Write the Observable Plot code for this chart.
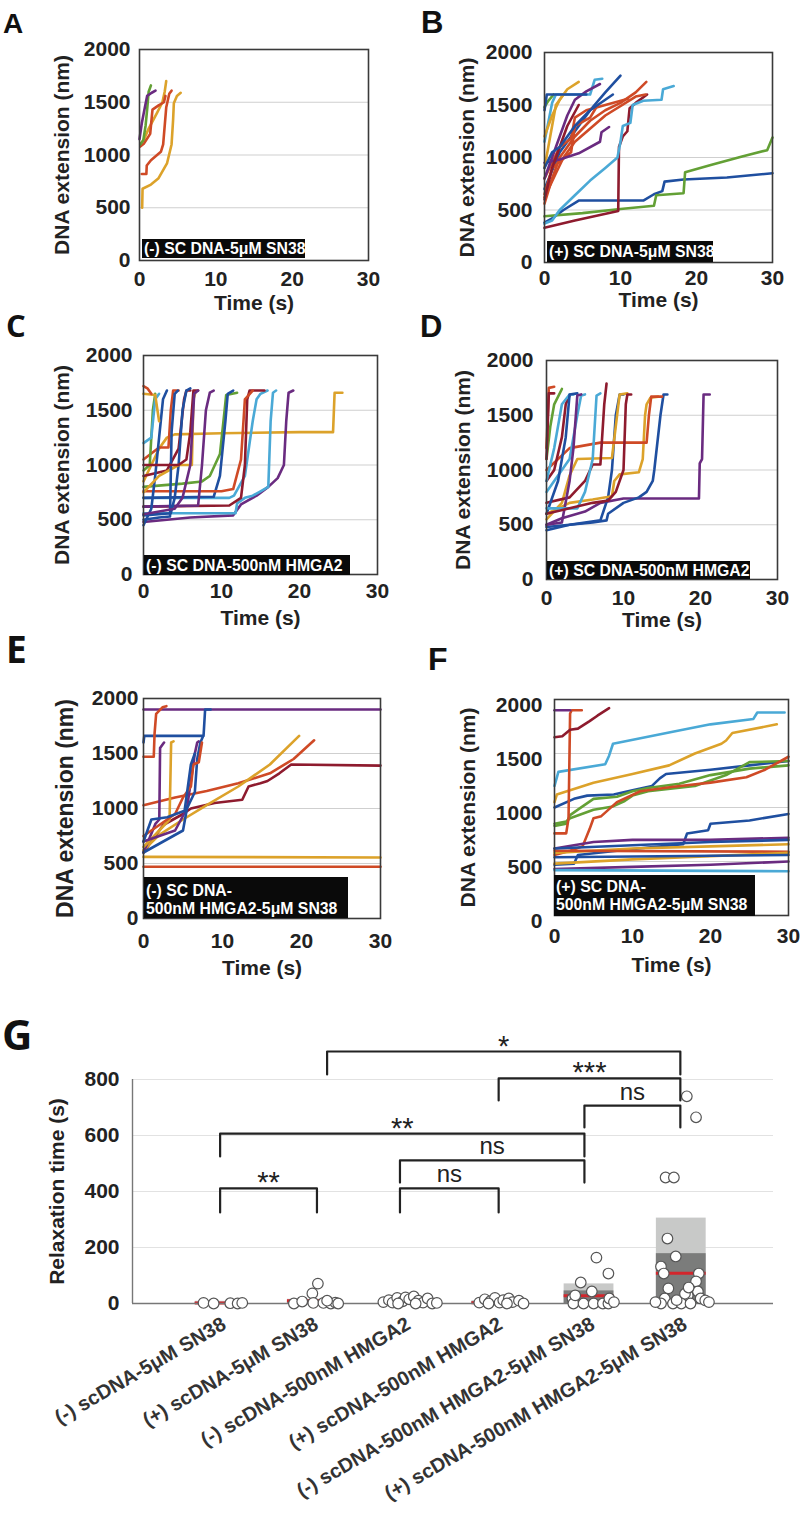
<!DOCTYPE html>
<html><head><meta charset="utf-8">
<script src="https://cdn.jsdelivr.net/npm/d3@7"></script>
<script src="https://cdn.jsdelivr.net/npm/@observablehq/plot@0.6"></script>
<style>
body{margin:0;background:#fff;}
#page{position:relative;width:800px;height:1516px;overflow:hidden;background:#fff;}
</style></head><body><div id="page"></div>
<script>
// ---------- data ----------
const palette = {blue:"#1f4fa0", red:"#cf4a26", yellow:"#dca22a", purple:"#6a2b80", green:"#63a035", cyan:"#4aa9d6", maroon:"#8e1b2e"};
const xTicks = [0, 10, 20, 30];
const yTicks = [0, 500, 1000, 1500, 2000];
const gridVals = [500, 1000, 1500];

const panelA = [
 ["yellow",[[0.35,500],[0.4,680],[1.5,720],[2.5,780],[3.6,920],[4.2,1100],[4.4,1330],[4.5,1490],[4.9,1560],[5.4,1590]]],
 ["yellow",[[0.1,1100],[0.6,1150],[1.2,1250],[2.3,1400],[3.0,1500],[3.3,1600],[3.5,1700]]],
 ["red",[[0.3,820],[0.9,820],[0.95,900],[1.5,950],[2.8,1030],[3.1,1100],[3.5,1450],[3.9,1580],[4.2,1610]]],
 ["red",[[0.1,1080],[0.6,1110],[1.4,1200],[1.7,1430],[2.5,1470],[3.2,1500],[3.4,1560]]],
 ["green",[[0.1,1100],[0.5,1140],[0.8,1280],[1.0,1430],[1.2,1600],[1.5,1660]]],
 ["purple",[[0,1150],[0.3,1300],[0.7,1450],[1.0,1560],[1.6,1590],[2.1,1610]]]
];
const panelB = [
 ["blue",[[0,380],[1,420],[2.5,500],[4.5,590],[13,590],[14.4,650],[15.5,680],[15.8,770],[18.3,790],[24,810],[30,850]]],
 ["green",[[0,440],[5,470],[10,510],[14.4,540],[14.7,640],[18.3,660],[18.5,860],[22,930],[26,1010],[29.3,1070],[30,1190]]],
 ["maroon",[[0,330],[4,400],[9.7,490],[9.8,1100],[10.3,1200],[10.9,1250],[11.2,1470],[12,1520],[13.5,1600]]],
 ["cyan",[[0,370],[1,400],[2,500],[4,640],[6,780],[8,900],[9.6,1000],[10,1150],[10.3,1300],[11.3,1330],[11.6,1500],[13,1540],[15.4,1550],[15.6,1650],[17,1680]]],
 ["cyan",[[0,1150],[1,1520],[1.5,1600],[6,1600],[6.6,1740],[7.6,1750]]],
 ["blue",[[0,700],[2,1050],[4,1250],[6,1450],[8,1620],[10,1780]]],
 ["red",[[0,560],[1,800],[2,1000],[4,1200],[6,1350],[8,1450],[10,1520],[12,1620],[13.4,1720]]],
 ["red",[[0,620],[1.5,850],[2.5,1000],[4,1150],[8,1400],[12,1580],[13.3,1600]]],
 ["red",[[0,800],[2,1100],[3.5,1180],[4,1380],[5.5,1450],[8,1500],[11,1560]]],
 ["red",[[0,650],[1,900],[3.5,1050],[4,1300],[6,1380],[7,1500]]],
 ["purple",[[0,950],[2,980],[4.5,1040],[7.3,1150],[7.5,1240],[8.5,1290]]],
 ["purple",[[0,800],[1,1000],[2,1200],[3,1400],[4,1550],[5.5,1630],[7.3,1700]]],
 ["yellow",[[0,1200],[1,1400],[2,1550],[3,1650],[4.5,1720]]],
 ["yellow",[[0,900],[0.5,1100],[1,1300],[1.5,1500],[2.5,1600]]],
 ["green",[[0,1480],[0.5,1540],[1.2,1600]]],
 ["maroon",[[0,600],[1,900],[2,1100],[3,1300],[4.5,1500]]],
 ["blue",[[0,1450],[0.3,1600],[5.5,1600]]],
 ["blue",[[0,900],[1,1050],[2,1100],[3,1200],[4,1300],[6,1450],[9,1600]]]
];
const panelC = [
 ["yellow",[[0,850],[1,1000],[2,1150],[3,1250],[4,1280],[10,1290],[20,1300],[24.3,1300],[24.5,1660],[25.5,1660]]],
 ["purple",[[0,480],[6,520],[11.5,540],[12.5,640],[14.5,720],[16,800],[17.2,880],[18,1000],[18.3,1400],[18.6,1660],[19.2,1680]]],
 ["cyan",[[0,560],[11.8,560],[12,650],[13,700],[14,720],[15,760],[16,800],[16.3,1400],[16.6,1660],[17,1680]]],
 ["cyan",[[0,700],[11,700],[11.6,720],[13,900],[14,1400],[14.5,1600],[15,1650],[15.9,1680]]],
 ["maroon",[[0,620],[11,630],[12.5,700],[13,1000],[13.3,1600],[13.6,1680],[15.5,1680]]],
 ["green",[[0,800],[5,830],[7.5,850],[8.5,900],[9.8,1100],[10.4,1500],[10.6,1640],[12,1660]]],
 ["blue",[[0,700],[9,710],[9.8,900],[10.5,1400],[10.8,1650],[11.5,1680]]],
 ["red",[[0,760],[10,760],[11.5,780],[12.5,1050],[13,1600],[14,1680]]],
 ["purple",[[0,620],[7,630],[7.5,1000],[8,1500],[8.5,1660],[9,1680]]],
 ["maroon",[[0,900],[3,950],[4.5,1150],[5.2,1600],[5.5,1680],[6,1680]]],
 ["blue",[[0,540],[3.5,560],[4,700],[4.5,1000],[5,1500],[5.5,1680],[6,1700]]],
 ["red",[[0,1050],[2,1160],[3.2,1160],[3.5,1500],[3.8,1680],[4.5,1680]]],
 ["blue",[[0,450],[1,600],[1.5,900],[2,1250],[2.5,1600],[3,1680]]],
 ["yellow",[[0,750],[2,900],[4.5,1000],[6.2,1000],[6.4,1600],[6.6,1650]]],
 ["green",[[0,950],[0.8,1000],[1.2,1500],[1.5,1650]]],
 ["cyan",[[0,1200],[1,1250],[1.5,1600],[2,1650]]],
 ["blue",[[0,500],[2,520],[3.4,530],[3.6,1300],[4,1650],[4.4,1680]]],
 ["maroon",[[0,1000],[4.5,1000],[5.5,1050],[6,1300],[6.4,1680],[7,1680]]],
 ["purple",[[0,550],[4,600],[5,700],[6,1000],[6.5,1650],[7,1680]]],
 ["yellow",[[0,1650],[1.5,1640],[2,1400]]],
 ["red",[[0,1720],[0.5,1700],[1,1650]]]
];
const panelD = [
 ["purple",[[0,500],[2,560],[5,620],[7,700],[10,740],[15,740],[19.8,740],[19.9,1060],[20.2,1100],[20.4,1690],[21.2,1690]]],
 ["blue",[[0,450],[3,500],[6,520],[7.8,540],[8,600],[10,700],[12,750],[13,800],[13.8,900],[14,1000],[14.8,1500],[15.2,1690],[15.7,1690]]],
 ["blue",[[0,480],[3,500],[7,540],[8,750],[8.5,1000],[9,1500],[9.5,1690],[10,1690]]],
 ["yellow",[[0,600],[3,700],[6,730],[8.5,760],[8.8,900],[9.5,960],[12,980],[12.5,1100],[12.8,1500],[13,1600],[13.5,1660],[14.5,1670]]],
 ["yellow",[[0,550],[2,700],[3,950],[4,1100],[8.5,1110],[9,1400],[9.5,1690],[10.5,1700]]],
 ["red",[[0,1000],[3,1200],[7,1250],[13,1250],[13.3,1500],[13.6,1670],[15,1670]]],
 ["cyan",[[0,800],[2,1000],[3,1100],[4,1500],[4.5,1680],[5,1690]]],
 ["maroon",[[0,700],[3,750],[5,900],[6,1050],[7,1050],[7.5,1600],[7.8,1790]]],
 ["maroon",[[0,900],[1,1000],[2,1300],[2.5,1600],[3,1680]]],
 ["cyan",[[0,900],[1,1200],[2,1600],[3,1690],[3.5,1690]]],
 ["blue",[[0,600],[1.5,900],[2.5,1300],[3,1690],[4,1700]]],
 ["green",[[0,1100],[0.5,1400],[1,1600],[2,1740]]],
 ["purple",[[0,500],[2,520],[3,900],[3.5,1200],[4,1680],[4.5,1690]]],
 ["red",[[0,1200],[0.3,1750],[1,1760]]],
 ["maroon",[[0,1100],[0.3,1700],[1,1700]]],
 ["cyan",[[0,650],[4,650],[5,800],[6,1100],[6.5,1680],[7,1700]]],
 ["maroon",[[0,600],[3,650],[6,700],[8,720],[9,800],[10,1000],[10.3,1600],[10.5,1690],[11,1690]]]
];
const panelE = [
 ["purple",[[0,1900],[30,1900]]],
 ["blue",[[0,1600],[0.1,1660],[7.6,1660],[7.8,1900],[8.5,1900]]],
 ["red",[[0,1470],[1.3,1470],[1.4,1680],[1.6,1860],[2.4,1920],[2.9,1930]]],
 ["maroon",[[0,600],[2.5,850],[5,950],[6,1000],[9,1050],[12.5,1080],[13.3,1200],[14.8,1230],[15.7,1250],[17.2,1320],[18.7,1400],[30,1390]]],
 ["red",[[0,1030],[4,1100],[8,1160],[12,1230],[16,1320],[19,1450],[21.6,1620]]],
 ["yellow",[[0,620],[2,760],[5,900],[8,1030],[12,1200],[16,1400],[19.7,1660]]],
 ["yellow",[[0,560],[30,555]]],
 ["red",[[0,470],[30,470]]],
 ["purple",[[0,600],[1.5,860],[2,900],[2.1,1550],[2.6,1600]]],
 ["yellow",[[0,650],[2,800],[3.3,900],[3.5,1600],[3.8,1610]]],
 ["purple",[[0,700],[4,800],[5.5,1000],[6.5,1500],[6.8,1600],[7,1610]]],
 ["blue",[[0,600],[2.5,700],[5,800],[5.5,1000],[6.5,1150],[6.8,1450],[7.2,1600],[7.5,1650]]],
 ["red",[[0,750],[4,950],[5,1100],[6,1200],[6.3,1400],[7,1420],[7.4,1600]]],
 ["blue",[[0,700],[1,900],[3,920],[5.2,980],[6,1400],[6.5,1500]]]
];
const panelF = [
 ["cyan",[[0,1200],[0.5,1330],[6.5,1400],[7,1480],[7.5,1590],[15,1700],[20,1770],[25.5,1820],[26,1880],[29.5,1880]]],
 ["yellow",[[0,1050],[0.3,1120],[5,1230],[10,1310],[14.7,1390],[18,1500],[21.4,1590],[22,1620],[22.8,1690],[28.5,1770]]],
 ["blue",[[0,1000],[2.5,1080],[4.2,1110],[7.6,1120],[10,1160],[12.5,1200],[13.5,1270],[14.3,1310],[20,1350],[25,1390],[30,1430]]],
 ["green",[[0,830],[1.5,850],[2,930],[3,980],[5,1080],[8,1100],[10,1150],[12,1180],[16,1220],[20,1300],[25,1360],[30,1390]]],
 ["green",[[0,850],[1.5,870],[2,900],[5,980],[7.5,1010],[9,1060],[10,1110],[12,1150],[18,1200],[22,1300],[25,1420],[30,1430]]],
 ["red",[[0,560],[2,600],[3.6,640],[4.5,800],[5,900],[6,920],[8,1050],[9.5,1100],[11,1150],[15,1190],[20,1230],[24.6,1280],[27,1350],[30,1470]]],
 ["red",[[0,760],[1.5,760],[1.8,900],[2,1870],[2.2,1900],[3.5,1900]]],
 ["maroon",[[0,1650],[1,1660],[2,1720],[3,1730],[4.5,1800],[5.5,1850],[7,1920]]],
 ["purple",[[0,1900],[2,1900]]],
 ["blue",[[0,470],[2.5,480],[3,560],[8,600],[12,630],[16.5,660],[17,760],[19.7,790],[20,850],[25,880],[30,940]]],
 ["purple",[[0,620],[5,680],[10,700],[20,700],[30,720]]],
 ["yellow",[[0,580],[10,620],[20,640],[30,660]]],
 ["red",[[0,600],[30,590]]],
 ["yellow",[[0,480],[10,520],[20,550],[30,580]]],
 ["blue",[[0,540],[30,560]]],
 ["purple",[[0,430],[10,450],[20,470],[30,500]]],
 ["cyan",[[0,420],[30,410]]],
 ["blue",[[0,620],[10,650],[20,680],[30,700]]]
];

// Panel G
const catsG = ["(-) scDNA-5μM SN38", "(+) scDNA-5μM SN38", "(-) scDNA-500nM HMGA2", "(+) scDNA-500nM HMGA2", "(-) scDNA-500nM HMGA2-5μM SN38", "(+) scDNA-500nM HMGA2-5μM SN38"];
const yTicksG = [0, 200, 400, 600, 800];
// [category, jitter, relaxation time (s)]
const dotsG = [
 [1,-0.18,2],[1,-0.07,0],[1,0.11,1],[1,0.19,0],[1,0.24,2],
 [2,-0.2,0],[2,-0.11,7],[2,0.0,36],[2,0.06,71],[2,0.01,2],[2,0.12,2],[2,0.2,0],[2,0.25,3],[2,0.28,0],[2,0.16,10],
 [3,-0.23,5],[3,-0.17,12],[3,-0.13,3],[3,-0.08,20],[3,-0.02,8],[3,0.01,22],[3,0.05,15],[3,0.1,25],[3,0.15,10],[3,0.2,3],[3,0.25,18],[3,0.3,0],[3,0.35,2],[3,-0.07,0],[3,0.12,0],
 [4,-0.19,3],[4,-0.13,15],[4,-0.07,8],[4,-0.02,20],[4,0.03,3],[4,0.07,12],[4,0.13,18],[4,0.17,5],[4,0.24,10],[4,0.29,0],[4,-0.09,0],[4,0.11,0],
 [5,-0.18,18],[5,-0.17,0],[5,-0.09,75],[5,-0.06,0],[5,0.03,43],[5,0.05,0],[5,0.08,164],[5,0.15,0],[5,0.21,107],[5,0.21,0],[5,0.22,18],[5,0.27,5],[5,-0.15,29],
 [6,0.06,740],[6,0.16,665],[6,-0.17,450],[6,-0.08,450],[6,-0.15,232],[6,-0.06,168],[6,-0.22,132],[6,-0.19,107],[6,0.19,107],[6,0.16,79],[6,-0.14,54],[6,0.18,43],[6,0.07,29],[6,-0.18,18],[6,0.21,18],[6,0.26,11],[6,-0.22,0],[6,-0.09,0],[6,0.0,0],[6,0.1,0],[6,0.3,5],[6,-0.05,12],[6,0.04,35],[6,-0.28,5],[6,0.08,57]
];
// [category, light box top, dark box top, median]
const boxesG = [[1,8,4,2],[2,15,8,10],[3,12,8,6],[4,10,6,3],[5,70,45,28],[6,305,178,108]];
// [from category, to category, bracket top, leg bottom, label]
const bracketsG = [
 [1.0, 2.05, 411, 325, "**"],
 [2.95, 4.02, 411, 325, "ns"],
 [2.95, 4.95, 511, 432, "ns"],
 [1.0, 4.95, 607, 525, "**"],
 [4.95, 5.99, 707, 629, "ns"],
 [4.02, 5.99, 804, 725, "***"],
 [2.16, 5.99, 900, 818, "*"]
];

// ---------- drawing ----------
const page = document.getElementById("page");
const FONT = "'Liberation Sans', Arial, Helvetica, sans-serif";
const plain = d => String(d);

function rowsOf(traces) {
  return traces.flatMap(([c, pts], k) => pts.map(([t, e]) => ({id: k, color: palette[c], t, e})));
}
function place(svg, left, top) {
  svg.style.position = "absolute";
  svg.style.left = left + "px";
  svg.style.top = top + "px";
  page.appendChild(svg);
}

function linePanel(cfg) {
  const svg = Plot.plot({
    width: cfg.w, height: cfg.h,
    marginTop: cfg.mt, marginRight: cfg.mr, marginBottom: cfg.mb, marginLeft: cfg.ml,
    style: {fontFamily: FONT, fontSize: "21px", fontWeight: "bold", color: "#222", background: "transparent", overflow: "visible"},
    x: {domain: [0, 30]},
    y: {domain: [0, 2000]},
    color: {type: "identity"},
    marks: [
      Plot.ruleY(gridVals, {stroke: "#cfcfcf", strokeWidth: 1}),
      Plot.line(rowsOf(cfg.traces), {x: "t", y: "e", z: "id", stroke: "color", strokeWidth: 2.6, strokeLinejoin: "round", strokeLinecap: "round"}),
      Plot.frame({stroke: "#3a3a3a", strokeWidth: 1.6}),
      Plot.axisX(xTicks, {tickSize: 0, tickPadding: cfg.xpad, tickFormat: plain, label: null}),
      Plot.axisY(yTicks, {tickSize: 0, tickPadding: cfg.ypad, tickFormat: plain, dy: cfg.ydy || 0, label: null}),
      Plot.text(["Time (s)"], {frameAnchor: "bottom", lineAnchor: "middle", textAnchor: "middle", dy: cfg.xl, fontSize: 21, fontWeight: "bold"}),
      Plot.text(["DNA extension (nm)"], {frameAnchor: "left", textAnchor: "middle", lineAnchor: "middle", dx: -cfg.yl, rotate: -90, fontSize: cfg.yls || 21, fontWeight: "bold"})
    ]
  });
  place(svg, cfg.left, cfg.top);
}

linePanel({traces: panelA, left: 0, top: 0, w: 400, h: 330, mt: 49, mr: 32, mb: 70, ml: 139, xpad: 10.5, ypad: 9, xl: 43, yl: 77});
linePanel({traces: panelB, left: 400, top: 0, w: 400, h: 330, mt: 52, mr: 28, mb: 68, ml: 144, xpad: 7.5, ypad: 12, xl: 38, yl: 77});
linePanel({traces: panelC, left: 0, top: 300, w: 400, h: 340, mt: 55, mr: 23, mb: 66, ml: 143, xpad: 8.5, ypad: 11, xl: 44, yl: 81});
linePanel({traces: panelD, left: 400, top: 300, w: 400, h: 340, mt: 60, mr: 23, mb: 61, ml: 146, xpad: 10.5, ypad: 13, xl: 41, yl: 83});
linePanel({traces: panelE, left: 0, top: 640, w: 400, h: 350, mt: 58, mr: 20, mb: 72, ml: 143, xpad: 14.5, ypad: 5, xl: 50, yl: 78, yls: 23});
linePanel({traces: panelF, left: 400, top: 640, w: 400, h: 350, mt: 59, mr: 12, mb: 75, ml: 154, xpad: 12.5, ypad: 12, xl: 50, yl: 86, ydy: 6});

// Panel G
const xDomG = [0.05, 7];
const boxRows = boxesG.map(([c, light, dark, med]) => ({c, light, dark, med}));
const dotRows = dotsG.map(([c, o, v]) => ({x: c + o, v}));
const bracketLines = bracketsG.flatMap(([a, b, top, low], k) => [
  {k, x: a, y: low}, {k, x: a, y: top}, {k, x: b, y: top}, {k, x: b, y: low}
]);
const bracketLabels = bracketsG.map(([a, b, top, low, label]) => ({x: (a + b) / 2, y: top, label}));
const halfW = 0.27;

const svgG = Plot.plot({
  width: 800, height: 526,
  marginTop: 89, marginRight: 27, marginBottom: 213, marginLeft: 132,
  style: {fontFamily: FONT, fontSize: "21px", fontWeight: "bold", color: "#222", background: "transparent", overflow: "visible"},
  x: {type: "linear", domain: xDomG},
  y: {domain: [0, 800]},
  marks: [
    Plot.ruleY(yTicksG.slice(1), {stroke: "#e2e2e2", strokeWidth: 1.2}),
    Plot.rect(boxRows, {x1: d => d.c - halfW, x2: d => d.c + halfW, y1: 0, y2: "light", fill: "#c8c9c8"}),
    Plot.rect(boxRows, {x1: d => d.c - halfW, x2: d => d.c + halfW, y1: 0, y2: "dark", fill: "#7b7c7b"}),
    Plot.ruleY(boxRows, {y: "med", x1: d => d.c - halfW, x2: d => d.c + halfW, stroke: "#d3262c", strokeWidth: 3}),
    Plot.ruleY([0], {stroke: "#777", strokeWidth: 1.4}),
    Plot.ruleX([xDomG[0]], {y1: 0, y2: 800, stroke: "#777", strokeWidth: 1.4}),
    Plot.dot(dotRows, {x: "x", y: "v", r: 5.3, fill: "white", stroke: "#555", strokeWidth: 1.2}),
    Plot.line(bracketLines, {x: "x", y: "y", z: "k", stroke: "#222", strokeWidth: 2.2, curve: "linear"}),
    Plot.text(bracketLabels.filter(d => d.label === "ns"), {x: "x", y: "y", text: "label", lineAnchor: "bottom", dy: -6, fontSize: 24, fontWeight: "normal"}),
    Plot.text(bracketLabels.filter(d => d.label !== "ns"), {x: "x", y: "y", text: "label", lineAnchor: "bottom", dy: 4, fontSize: 29, fontWeight: "normal"}),
    Plot.axisX([1, 2, 3, 4, 5, 6], {tickFormat: i => catsG[i - 1], tickRotate: -30, tickSize: 0, tickPadding: 19, dx: 4, fontSize: 20, fill: "#333", label: null}),
    Plot.axisY(yTicksG, {tickSize: 0, tickPadding: 13, tickFormat: plain, label: null}),
    Plot.text(["Relaxation time (s)"], {frameAnchor: "left", textAnchor: "middle", lineAnchor: "middle", dx: -75, rotate: -90, fontSize: 21, fontWeight: "bold"})
  ]
});
place(svgG, 0, 990);

// ---------- overlay: panel letters and condition labels ----------
const ov = d3.select(page).append("svg")
  .attr("width", 800).attr("height", 1516)
  .style("position", "absolute").style("left", "0px").style("top", "0px").style("pointer-events", "none");

const lettersLayout = [
  ["A", 3, 33, 28, FONT], ["B", 421, 33, 31, FONT],
  ["C", 6, 337, 31, "'Open Sans', sans-serif"], ["D", 420, 337, 31, FONT],
  ["E", 6, 663, 37, "'Open Sans', sans-serif"], ["F", 428, 670, 32, FONT],
  ["G", 2, 1050, 42, "'Open Sans', sans-serif"]
];
lettersLayout.forEach(([t, x, y, s, f]) => {
  ov.append("text").attr("x", x).attr("y", y).attr("font-family", f).attr("font-size", s)
    .attr("font-weight", "bold").attr("fill", "#111").text(t);
});

const labelBoxes = [
  [["(-) SC DNA-5μM SN38"], 142, 239, 163, 19, 144, [253.5]],
  [["(+) SC DNA-5μM SN38"], 547, 241, 166, 21, 549, [257]],
  [["(-) SC DNA-500nM HMGA2"], 144, 555, 206, 20, 146, [570.5]],
  [["(+) SC DNA-500nM HMGA2"], 547, 561, 203, 18, 549, [575.5]],
  [["(-) SC DNA-", "500nM HMGA2-5μM SN38"], 144, 877, 204, 41, 146, [896, 914]],
  [["(+) SC DNA-", "500nM HMGA2-5μM SN38"], 554, 875, 201, 41, 556, [892, 910]]
];
labelBoxes.forEach(([lines, x, y, w, h, tx, bases]) => {
  ov.append("rect").attr("x", x).attr("y", y).attr("width", w).attr("height", h).attr("fill", "#0a0a0a");
  lines.forEach((ln, i) => {
    ov.append("text").attr("x", tx).attr("y", bases[i]).attr("font-family", FONT).attr("font-size", 15.8)
      .attr("font-weight", "bold").attr("fill", "white").text(ln);
  });
});
</script>
</body></html>
